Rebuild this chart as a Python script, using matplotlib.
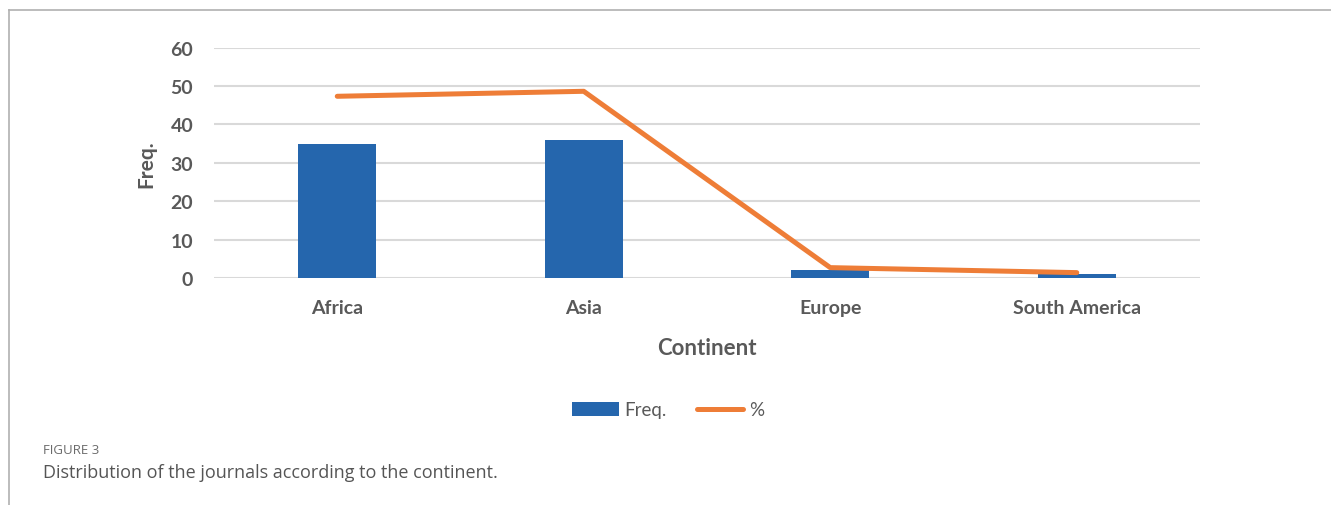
import matplotlib
matplotlib.use("Agg")
import matplotlib.pyplot as plt
from matplotlib.lines import Line2D
from matplotlib.patches import Patch
import numpy as np

categories = ["Africa", "Asia", "Europe", "South America"]
freq = [35, 36, 2, 1]
pct = [47.3, 48.6, 2.7, 1.4]
yticks = [0, 10, 20, 30, 40, 50, 60]

BLUE = "#2566ad"
ORANGE = "#ee7d37"
GRAY = "#595959"
GRID = "#d9d9d9"

plt.rcParams['font.family'] = ['Lato', 'DejaVu Sans']

fig = plt.figure(figsize=(13.31, 5.06), dpi=100)
ax = fig.add_axes([214/1331, 1-279/506, (1200-214)/1331, (279-48.5)/506])

x = np.arange(len(categories))
ax.bar(x, freq, width=0.316, color=BLUE, zorder=2)
ax.plot(x, pct, color=ORANGE, lw=3.6, solid_capstyle='round', solid_joinstyle='round', zorder=3)

ax.set_xlim(-0.5, len(categories) - 0.5)
ax.set_ylim(0, 60)
ax.set_yticks(yticks)
ax.set_yticklabels([str(v) for v in yticks], fontsize=14, fontweight='bold', color=GRAY)
ax.set_xticks(x)
ax.set_xticklabels(categories, fontsize=14, fontweight='bold', color=GRAY)
ax.tick_params(axis='y', length=0, pad=15)
ax.tick_params(axis='x', length=0, pad=15)
ax.grid(axis='y', color=GRID, lw=1.5, zorder=0)
ax.set_axisbelow(True)
for s in ax.spines.values():
    s.set_visible(False)

ax.set_xlabel("Continent", fontsize=16, fontweight='bold', color=GRAY, labelpad=15)
ax.set_ylabel("Freq.", fontsize=15, fontweight='bold', color=GRAY, labelpad=10)

handles = [Patch(facecolor=BLUE, edgecolor='none'),
           Line2D([0], [0], color=ORANGE, lw=3.6, solid_capstyle='round')]
fig.legend(handles, ["Freq.", "%"], loc='center', bbox_to_anchor=(668/1331, 1-411/506),
           ncol=2, frameon=False, fontsize=13.5, labelcolor=GRAY,
           handlelength=2.5, handleheight=0.75, handletextpad=0.3, columnspacing=1.6)

# frame lines (top and left)
fig.add_artist(Line2D([9/1331, 1], [1-11/506, 1-11/506], color="#b0b0b0", lw=1.2))
fig.add_artist(Line2D([9/1331, 9/1331], [0, 1-11/506], color="#b0b0b0", lw=1.2))

fig.text(43/1331, 1-451/506, "FIGURE 3", fontsize=9.5, color="#6b6b6b", va='center', ha='left',
         family=['Open Sans', 'DejaVu Sans'])
fig.text(43/1331, 1-473/506, "Distribution of the journals according to the continent.",
         fontsize=13, color="#555555", va='center', ha='left', family=['Open Sans', 'DejaVu Sans'])

fig.savefig("out.png", dpi=100, facecolor='white')
